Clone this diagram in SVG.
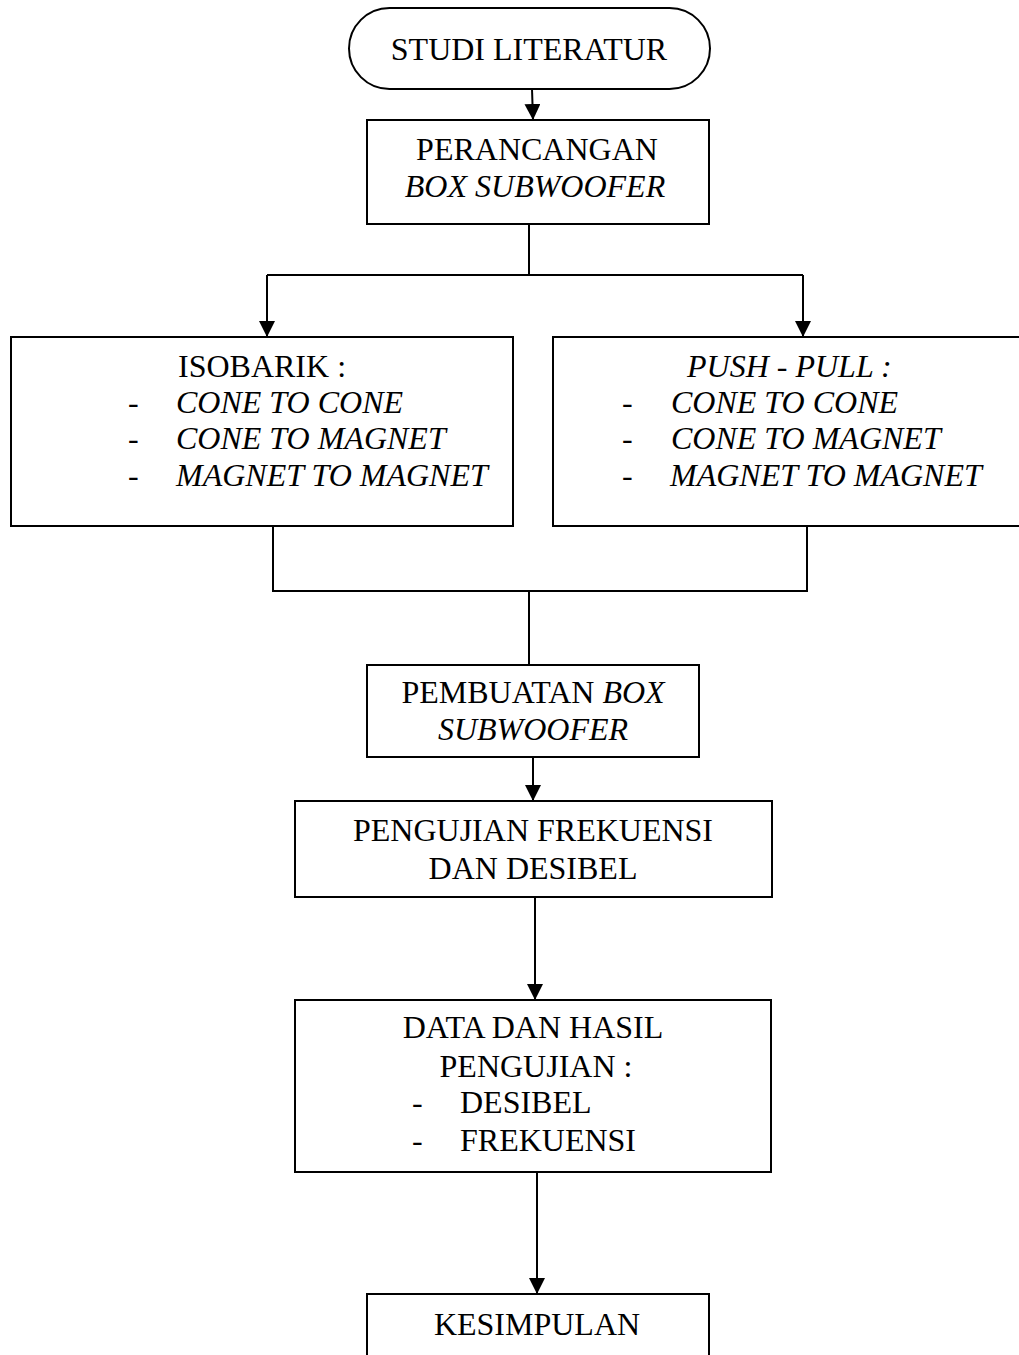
<svg xmlns="http://www.w3.org/2000/svg" width="1019" height="1355" viewBox="0 0 1019 1355">
<style>
.box{fill:#fff;stroke:#000;stroke-width:2}
.ln{fill:none;stroke:#000;stroke-width:2}
text{font-family:"Liberation Serif","Times New Roman",serif;font-size:32px;fill:#000}
.c{text-anchor:middle}
.i{font-style:italic}
</style>
<defs>
<marker id="ah" markerUnits="userSpaceOnUse" markerWidth="16" markerHeight="16" viewBox="0 0 16 16" refX="16" refY="8" orient="auto">
<path d="M0,0 L16,8 L0,16 Z" fill="#000"/>
</marker>
</defs>
<rect width="1019" height="1355" fill="#fff"/>
<g id="connectors">
<path class="ln" d="M532,89 L533,120" marker-end="url(#ah)"/>
<path class="ln" d="M529,224 L529,275"/>
<path class="ln" d="M267,275 L803,275"/>
<path class="ln" d="M267,275 L267,337" marker-end="url(#ah)"/>
<path class="ln" d="M803,275 L803,337" marker-end="url(#ah)"/>
<path class="ln" d="M273,526 L273,591 L807,591 L807,526"/>
<path class="ln" d="M529,591 L529,665"/>
<path class="ln" d="M533,757 L533,801" marker-end="url(#ah)"/>
<path class="ln" d="M535,897 L535,1000" marker-end="url(#ah)"/>
<path class="ln" d="M537,1172 L537,1294" marker-end="url(#ah)"/>
</g>
<g id="studi">
<rect class="box" x="349" y="8" width="361" height="81" rx="40.5"/>
<text class="c" x="529" y="60">STUDI LITERATUR</text>
</g>
<g id="perancangan">
<rect class="box" x="367" y="120" width="342" height="104"/>
<text class="c" x="537" y="160">PERANCANGAN</text>
<text class="c i" x="535" y="197">BOX SUBWOOFER</text>
</g>
<g id="isobarik">
<rect class="box" x="11" y="337" width="502" height="189"/>
<text x="178" y="377">ISOBARIK :</text>
<text x="128" y="413">-</text><text class="i" x="176" y="413">CONE TO CONE</text>
<text x="128" y="449">-</text><text class="i" x="176" y="449">CONE TO MAGNET</text>
<text x="128" y="486">-</text><text class="i" x="176" y="486">MAGNET TO MAGNET</text>
</g>
<g id="pushpull">
<rect class="box" x="553" y="337" width="480" height="189"/>
<text class="i" x="687" y="377">PUSH - PULL :</text>
<text x="622" y="413">-</text><text class="i" x="671" y="413">CONE TO CONE</text>
<text x="622" y="449">-</text><text class="i" x="671" y="449">CONE TO MAGNET</text>
<text x="622" y="486">-</text><text class="i" x="670" y="486">MAGNET TO MAGNET</text>
</g>
<g id="pembuatan">
<rect class="box" x="367" y="665" width="332" height="92"/>
<text class="c" x="533" y="703">PEMBUATAN <tspan class="i">BOX</tspan></text>
<text class="c i" x="533" y="740">SUBWOOFER</text>
</g>
<g id="pengujian">
<rect class="box" x="295" y="801" width="477" height="96"/>
<text class="c" x="533" y="841">PENGUJIAN FREKUENSI</text>
<text class="c" x="533" y="879">DAN DESIBEL</text>
</g>
<g id="data">
<rect class="box" x="295" y="1000" width="476" height="172"/>
<text class="c" x="533" y="1038">DATA DAN HASIL</text>
<text class="c" x="536" y="1077">PENGUJIAN :</text>
<text x="412" y="1113">-</text><text x="460" y="1113">DESIBEL</text>
<text x="412" y="1151">-</text><text x="460" y="1151">FREKUENSI</text>
</g>
<g id="kesimpulan">
<rect class="box" x="367" y="1294" width="342" height="80"/>
<text class="c" x="537" y="1335">KESIMPULAN</text>
</g>
</svg>
